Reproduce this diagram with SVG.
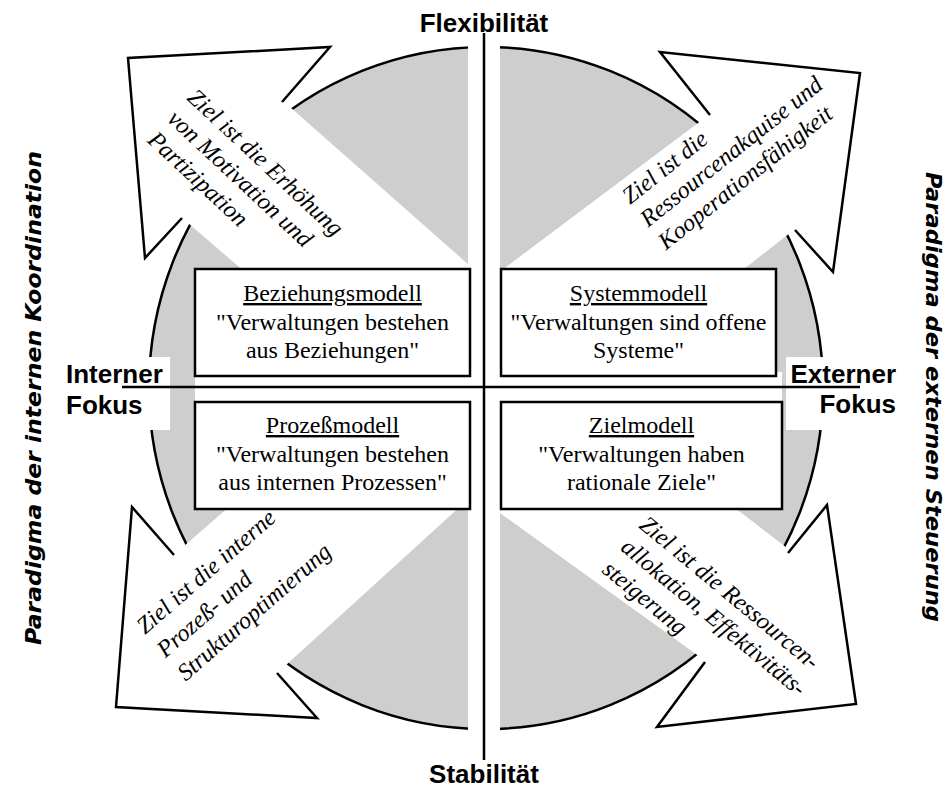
<svg xmlns="http://www.w3.org/2000/svg" width="950" height="790" viewBox="0 0 950 790">
<defs>
<style>
.ax{font-family:"Liberation Sans",Arial,sans-serif;font-weight:bold;font-size:26px;fill:#000}
.side{font-family:"DejaVu Sans",sans-serif;font-weight:bold;font-style:italic;font-size:22px;fill:#000}
.it{font-family:"Liberation Serif","Times New Roman",serif;font-style:italic;font-size:24px;fill:#000}
.bx{font-family:"Liberation Serif","Times New Roman",serif;font-size:24px;fill:#000;text-anchor:middle}
.u{text-decoration:underline}
.box{fill:#fff;stroke:#000;stroke-width:2.5}
.head{fill:none;stroke:#000;stroke-width:2.5;stroke-linejoin:miter}
.shaft{fill:#fff;stroke:none}
.wb{fill:#fff;stroke:none}
.ln{stroke:#000;stroke-width:2.5;fill:none}
</style>
</defs>
<rect width="950" height="790" fill="#fff"/>
<g id="circle"><ellipse cx="486" cy="388" rx="337" ry="341" fill="#cecece" stroke="#000" stroke-width="2.5"/></g>

<g id="arrow-tl">
<polygon class="shaft" points="486,280 290,107 282,102 330,47 128,58 145,258 182,218 188,223 380,388 486,388"/>
<polyline class="head" points="282,102 330,47 128,58 145,258 182,218"/>
</g>
<g id="arrow-tr">
<polygon class="shaft" points="486,282 702,120 710,115 660,52 860,73 833,272 795,230 790,233 591,388 486,388"/>
<polyline class="head" points="710,115 660,52 860,73 833,272 795,230"/>
</g>
<g id="arrow-bl">
<polygon class="shaft" points="366,388 184,546 174,555 132,507 116,707 317,718 277,673 285,666 486,483 486,388"/>
<polyline class="head" points="174,555 132,507 116,707 317,718 277,673"/>
</g>
<g id="arrow-br">
<polygon class="shaft" points="579,388 787,548 788,553 827,505 856,704 657,727 705,662 700,657 486,503 486,388"/>
<polyline class="head" points="788,553 827,505 856,704 657,727 705,662"/>
</g>

<rect class="wb" x="468" y="40" width="32" height="696"/>
<rect class="wb" x="195" y="372" width="587" height="34"/>
<rect class="wb" x="58" y="357" width="112" height="73"/>
<rect class="wb" x="786" y="357" width="120" height="73"/>

<g id="box-beziehung">
<rect class="box" x="195" y="269" width="275" height="107"/>
<text class="bx" x="332.5" y="301"><tspan class="u">Beziehungsmodell</tspan></text>
<text class="bx" x="332.5" y="330">"Verwaltungen bestehen</text>
<text class="bx" x="332.5" y="358">aus Beziehungen"</text>
</g>
<g id="box-system">
<rect class="box" x="501" y="269" width="275" height="107"/>
<text class="bx" x="638.5" y="301"><tspan class="u">Systemmodell</tspan></text>
<text class="bx" x="638.5" y="330">"Verwaltungen sind offene</text>
<text class="bx" x="638.5" y="358">Systeme"</text>
</g>
<g id="box-prozess">
<rect class="box" x="195" y="402" width="275" height="107"/>
<text class="bx" x="332.5" y="433"><tspan class="u">Prozeßmodell</tspan></text>
<text class="bx" x="332.5" y="462">"Verwaltungen bestehen</text>
<text class="bx" x="332.5" y="490">aus internen Prozessen"</text>
</g>
<g id="box-ziel">
<rect class="box" x="501" y="402" width="281" height="107"/>
<text class="bx" x="641.5" y="433"><tspan class="u">Zielmodell</tspan></text>
<text class="bx" x="641.5" y="462">"Verwaltungen haben</text>
<text class="bx" x="641.5" y="490">rationale Ziele"</text>
</g>

<g id="connectors">
<line class="ln" x1="484" y1="33" x2="484" y2="760"/>
<line class="ln" x1="122" y1="387" x2="860" y2="387"/>
</g>

<g id="label-tl" transform="translate(186,99) rotate(43)">
<text class="it" x="0" y="0">Ziel ist die Erhöhung</text>
<text class="it" x="0" y="29">von Motivation und</text>
<text class="it" x="0" y="58">Partizipation</text>
</g>
<g id="label-tr" transform="translate(630,205) rotate(-38.5)">
<text class="it" x="0" y="0">Ziel ist die</text>
<text class="it" x="0" y="29">Ressourcenakquise und</text>
<text class="it" x="0" y="58">Kooperationsfähigkeit</text>
</g>
<g id="label-bl" transform="translate(145,635) rotate(-41)">
<text class="it" x="0" y="0">Ziel ist die interne</text>
<text class="it" x="0" y="31">Prozeß- und</text>
<text class="it" x="0" y="62">Strukturoptimierung</text>
</g>
<g id="label-br" transform="translate(638,527) rotate(39.6)">
<text class="it" x="0" y="0">Ziel ist die Ressourcen-</text>
<text class="it" x="0" y="29">allokation, Effektivitäts-</text>
<text class="it" x="0" y="58">steigerung</text>
</g>

<g id="axis-labels">
<text class="ax" x="484" y="32" text-anchor="middle">Flexibilität</text>
<text class="ax" x="484" y="783" text-anchor="middle">Stabilität</text>
<text class="ax" x="66" y="383">Interner</text>
<text class="ax" x="66" y="414">Fokus</text>
<text class="ax" x="896" y="383" text-anchor="end">Externer</text>
<text class="ax" x="896" y="413" text-anchor="end">Fokus</text>
</g>
<g id="side-labels">
<text class="side" transform="translate(41,398) rotate(-90)" text-anchor="middle" textLength="494" lengthAdjust="spacingAndGlyphs">Paradigma der internen Koordination</text>
<text class="side" transform="translate(926,397) rotate(90)" text-anchor="middle" textLength="450" lengthAdjust="spacingAndGlyphs">Paradigma der externen Steuerung</text>
</g>
</svg>
